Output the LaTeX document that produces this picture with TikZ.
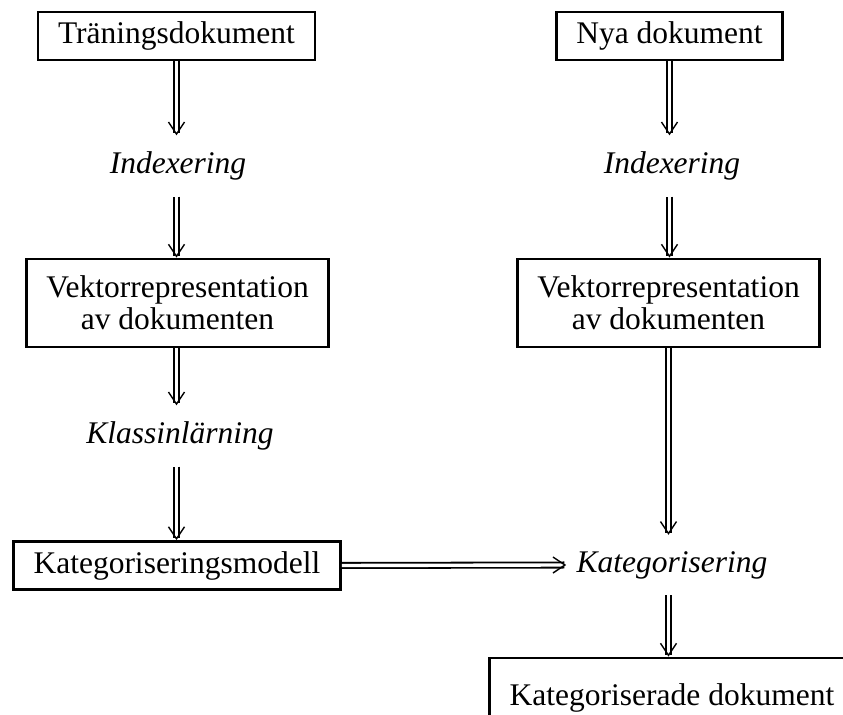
\documentclass[tikz,border=0pt]{standalone}
\usepackage{fontspec}
\setmainfont{Liberation Serif}
\usetikzlibrary{arrows.meta}

\begin{document}
\begin{tikzpicture}[x=0.5pt, y=-0.5pt]
    % Stil for rutorna
    \tikzstyle{box_style} = [draw, line width=1.4pt, inner xsep=10pt, inner ysep=4pt, minimum height=24pt, align=center, font=\fontsize{15.75pt}{16pt}\selectfont]

    % Stil for stegen (kursiv text)
    \tikzstyle{step_label} = [inner xsep=5pt, inner ysep=8pt, font=\fontsize{15.75pt}{16pt}\selectfont\itshape]

    % Stil for dubbelpilarna
    \tikzstyle{arrow_style} = [double, line width=0.9pt, double distance=1.7pt, -{Straight Barb[length=6pt, width=8pt, line width=0.7pt]}]

    \useasboundingbox (0,0) rectangle (843,715);

    % Vanster kolumn: traning
    \node[box_style] (tren) at (176.5, 36) {Träningsdokument};
    \node[step_label] (idxA) at (178, 166) {Indexering};
    \node[box_style, minimum height=44pt] (vekA) at (177.5, 303) {Vektorrepresentation\\av dokumenten};
    \node[step_label] (klass) at (180, 436) {Klassinlärning};
    \node[box_style] (modell) at (177, 565.5) {Kategoriseringsmodell};

    % Hoger kolumn: nya dokument
    \node[box_style] (nya) at (669.5, 36) {Nya dokument};
    \node[step_label] (idxB) at (672, 166) {Indexering};
    \node[box_style, minimum height=44pt] (vekB) at (668.5, 303) {Vektorrepresentation\\av dokumenten};
    \node[step_label] (kat) at (672, 565) {Kategorisering};
    \node[box_style, minimum height=40pt] (result) at (672, 698) {Kategoriserade dokument};

    % Pilar
    \draw[arrow_style] (tren.south) -- (tren.south |- idxA.north);
    \draw[arrow_style] (tren.south |- idxA.south) -- (tren.south |- vekA.north);
    \draw[arrow_style] (tren.south |- vekA.south) -- (tren.south |- klass.north);
    \draw[arrow_style] (tren.south |- klass.south) -- (tren.south |- modell.north);

    \draw[arrow_style] (nya.south) -- (nya.south |- idxB.north);
    \draw[arrow_style] (nya.south |- idxB.south) -- (nya.south |- vekB.north);
    \draw[arrow_style] (vekB.south) -- (vekB.south |- kat.north);
    \draw[arrow_style] (vekB.south |- kat.south) -- (vekB.south |- result.north);

    \draw[arrow_style] (modell.east) -- (kat.west);

\end{tikzpicture}
\end{document}
